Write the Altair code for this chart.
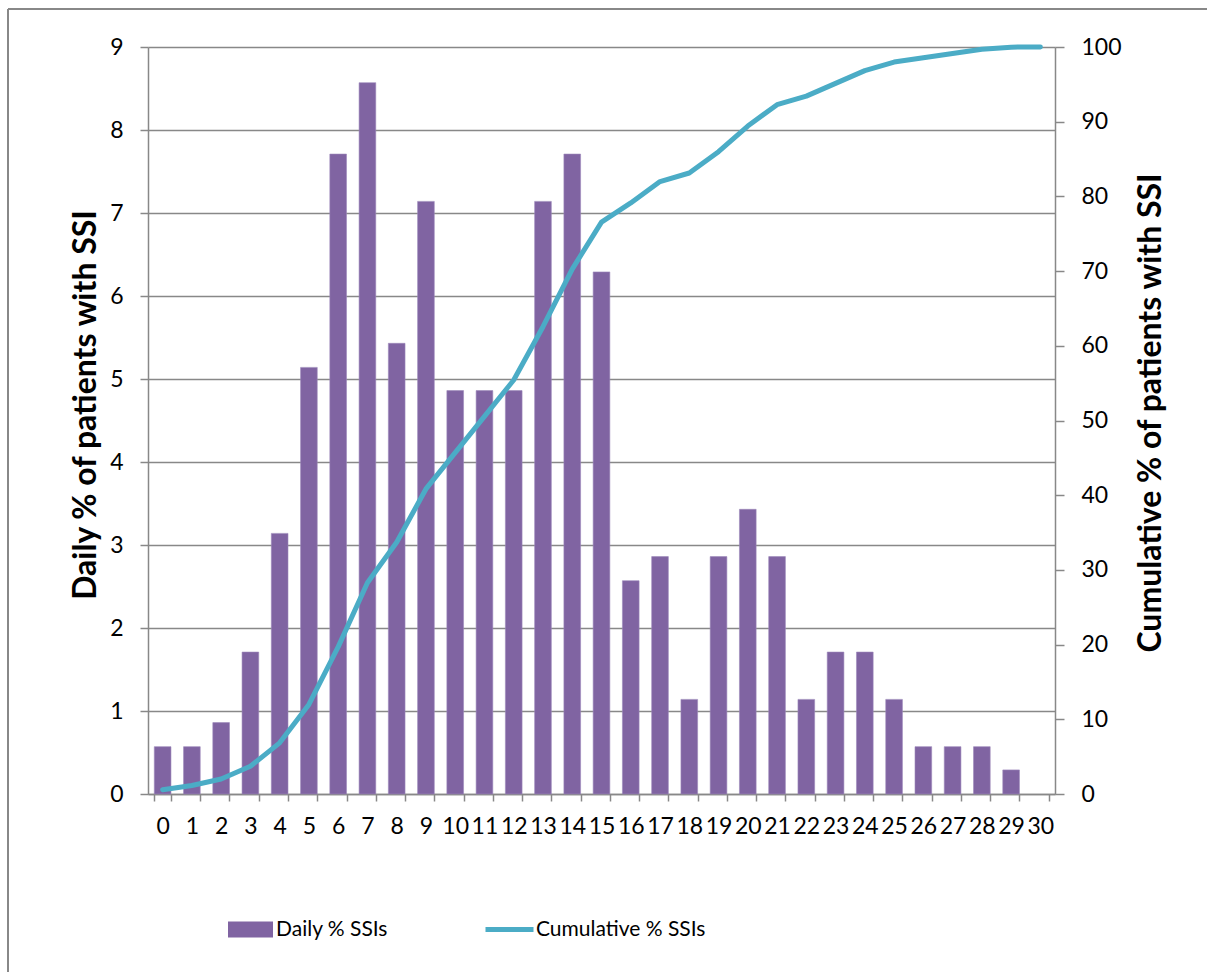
import altair as alt
import pandas as pd

days_bar = list(range(0, 30))
daily = [0.57, 0.57, 0.86, 1.71, 3.14, 5.14, 7.71, 8.57, 5.43, 7.14,
         4.86, 4.86, 4.86, 7.14, 7.71, 6.29, 2.57, 2.86, 1.14, 2.86,
         3.43, 2.86, 1.14, 1.71, 1.71, 1.14, 0.57, 0.57, 0.57, 0.29]
days_line = list(range(0, 31))
cumulative = [0.57, 1.14, 2.0, 3.71, 6.85, 11.99, 19.7, 28.27, 33.7, 40.84,
              45.7, 50.56, 55.42, 62.56, 70.27, 76.56, 79.13, 81.99, 83.13, 85.99,
              89.42, 92.28, 93.42, 95.13, 96.84, 97.98, 98.55, 99.12, 99.69, 99.98, 100.0]
day_labels = [str(d) for d in days_line]

bar_df = pd.DataFrame({"day": [str(d) for d in days_bar], "daily": daily, "series": "Daily % SSIs"})
line_df = pd.DataFrame({"day": [str(d) for d in days_line], "cum": cumulative, "series2": "Cumulative % SSIs"})

PURPLE = "#8064A2"
CYAN = "#4BACC6"
GRAY = "#888888"
FONT = "Lato"
LBL = 23
TTL = 32
LEG = 21

W, H = 907, 747

xenc = alt.X("day:N", sort=day_labels,
             scale=alt.Scale(domain=day_labels, paddingInner=0.43, paddingOuter=0.215),
             axis=alt.Axis(title=None, labelAngle=0, tickBand="extent", tickSize=7,
                           labelPadding=14, labelFontSize=LBL, labelColor="black",
                           domainColor=GRAY, tickColor=GRAY, domainWidth=1.5, tickWidth=1.5,
                           grid=False, labelOverlap=False))

bars = alt.Chart(bar_df).mark_bar(fill=PURPLE, stroke="#9C88BA", strokeWidth=0.6).encode(
    x=xenc,
    y=alt.Y("daily:Q", scale=alt.Scale(domain=[0, 9], nice=False),
            axis=alt.Axis(title="Daily % of patients with SSI", values=list(range(0, 10)),
                          orient="left", tickSize=8, labelPadding=17, labelFontSize=LBL,
                          labelColor="black", domainColor=GRAY, tickColor=GRAY,
                          domainWidth=1.5, tickWidth=1.5, grid=True, gridColor=GRAY,
                          gridWidth=1.5, titleFontSize=TTL, titleFontWeight="bold",
                          titleColor="black", titleAngle=270, titleX=-63, titleY=H / 2 - 16,
                          titleAlign="center", titleBaseline="middle")),
    fill=alt.Fill("series:N", scale=alt.Scale(domain=["Daily % SSIs"], range=[PURPLE]),
                  legend=alt.Legend(title=None, orient="none", legendX=80, legendY=860,
                                    symbolType="M-1,-0.36H1V0.36H-1Z", symbolSize=2025,
                                    symbolStrokeWidth=0, labelFontSize=LEG, labelColor="black",
                                    labelOffset=3, padding=0, labelLimit=400)),
)

line = alt.Chart(line_df).mark_line(strokeWidth=5, strokeCap="round", strokeJoin="round").encode(
    x=alt.X("day:N", sort=day_labels),
    y=alt.Y("cum:Q", scale=alt.Scale(domain=[0, 100], nice=False),
            axis=alt.Axis(title="Cumulative % of patients with SSI", values=list(range(0, 101, 10)),
                          orient="right", tickSize=9, labelPadding=17, labelFontSize=LBL,
                          labelColor="black", domainColor=GRAY, tickColor=GRAY,
                          domainWidth=1.5, tickWidth=1.5, grid=False,
                          titleFontSize=TTL, titleFontWeight="bold", titleColor="black",
                          titleAngle=270, titleX=95, titleY=H / 2 - 8,
                          titleAlign="center", titleBaseline="middle")),
    stroke=alt.Stroke("series2:N", scale=alt.Scale(domain=["Cumulative % SSIs"], range=[CYAN]),
                      legend=alt.Legend(title=None, orient="none", legendX=335, legendY=856,
                                        symbolType="stroke", symbolSize=2304, symbolStrokeWidth=5,
                                        labelFontSize=LEG, labelColor="black", labelOffset=0,
                                        padding=0, labelLimit=400)),
)

frame_src = alt.Data(values=[{"a": 1}])
border_top = alt.Chart(frame_src).mark_rule(color=GRAY, strokeWidth=2).encode(
    x=alt.value(-140), x2=alt.value(W + 160), y=alt.value(-38))
border_left = alt.Chart(frame_src).mark_rule(color=GRAY, strokeWidth=2).encode(
    x=alt.value(-140), y=alt.value(-38), y2=alt.value(H + 190))

chart = alt.layer(border_top, border_left, bars, line).resolve_scale(
    y="independent", fill="independent", stroke="independent").properties(
    width=W, height=H,
    autosize=alt.AutoSizeParams(type="none"),
    padding={"left": 148, "top": 47, "right": 152, "bottom": 178},
).configure(font=FONT).configure_view(stroke=None).configure_axis(
    labelFont=FONT, titleFont=FONT).configure_legend(labelFont=FONT)

chart.save("out.html", embed_options={"renderer": "svg", "actions": False})
